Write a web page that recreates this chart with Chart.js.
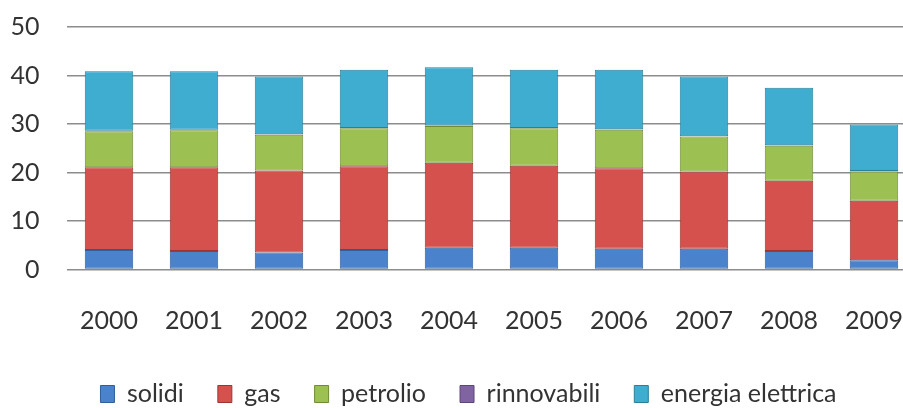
<!DOCTYPE html>
<html>
<head>
<meta charset="utf-8">
<script src="https://cdn.jsdelivr.net/npm/chart.js@4/dist/chart.umd.min.js"></script>
<style>
  html, body { margin: 0; padding: 0; background: #fff; overflow: hidden; }
  #wrap { position: relative; width: 937px; height: 408px; }
</style>
</head>
<body>
<div id="wrap"><canvas id="consumi"></canvas></div>
<script>
// anni e serie
const anni = ['2000', '2001', '2002', '2003', '2004', '2005', '2006', '2007', '2008', '2009'];
const solidi = [4.0, 3.8, 3.5, 4.0, 4.5, 4.5, 4.3, 4.3, 3.8, 1.9];
const gas = [17.1, 17.3, 16.9, 17.3, 17.5, 16.9, 16.6, 15.9, 14.5, 12.3];
const petrolio = [7.4, 7.6, 7.4, 7.8, 7.6, 7.7, 7.9, 7.2, 7.2, 6.0];
const rinnovabili = [0.1, 0.1, 0.1, 0.1, 0.1, 0.1, 0.1, 0.1, 0.1, 0.1];
const energiaElettrica = [12.3, 12.1, 11.9, 12.0, 12.0, 12.0, 12.3, 12.3, 11.9, 9.6];
const yTicks = [0, 10, 20, 30, 40, 50];

const font = { family: 'Lato', size: 25 };

function serie(label, data, fill, edge) {
    return {
        label: label,
        data: data,
        backgroundColor: fill,
        borderColor: edge,
        borderWidth: 1,
        borderSkipped: false,
        barPercentage: 0.57,
        categoryPercentage: 1
    };
}

new Chart(document.getElementById('consumi'), {
    type: 'bar',
    data: {
        labels: anni,
        datasets: [
            serie('solidi', solidi, '#4a82cc', '#2f5f9c'),
            serie('gas', gas, '#d4514e', '#9c3432'),
            serie('petrolio', petrolio, '#9cc052', '#6f8c34'),
            serie('rinnovabili', rinnovabili, '#8064a2', '#5d4778'),
            serie('energia elettrica', energiaElettrica, '#3eadcf', '#2a7f9a')
        ]
    },
    options: {
        responsive: true,
        maintainAspectRatio: false,
        animation: false,
        layout: { padding: { top: 27, left: 0, right: 0, bottom: -8.5 } },
        scales: {
            x: {
                stacked: true,
                grid: { display: false },
                border: { display: false },
                ticks: { font: font, color: '#333', padding: 28, maxRotation: 0 },
                afterFit: s => { s.height = 78; }
            },
            y: {
                stacked: true,
                min: 0,
                max: 50,
                afterBuildTicks: s => { s.ticks = yTicks.map(v => ({ value: v })); },
                grid: { color: '#8c8c8c', lineWidth: 1.5, drawTicks: false },
                border: { display: false },
                ticks: { font: font, color: '#333', padding: 27 },
                // il padding delle etichette non deve spostare l'area del grafico
                afterFit: s => { s.width = 66.5; s.paddingTop = 0; s.paddingBottom = 0; }
            },
            // asse vuoto a destra, solo per lasciare margine come nell'originale
            margine: {
                type: 'linear',
                position: 'right',
                grid: { display: false },
                border: { display: false },
                ticks: { display: false },
                afterFit: s => { s.width = 20.5; s.paddingTop = 0; s.paddingBottom = 0; }
            }
        },
        plugins: {
            legend: {
                position: 'bottom',
                labels: {
                    font: font,
                    color: '#333',
                    boxWidth: 14,
                    boxHeight: 17,
                    padding: 34
                }
            },
            tooltip: { enabled: false }
        }
    }
});
</script>
</body>
</html>
